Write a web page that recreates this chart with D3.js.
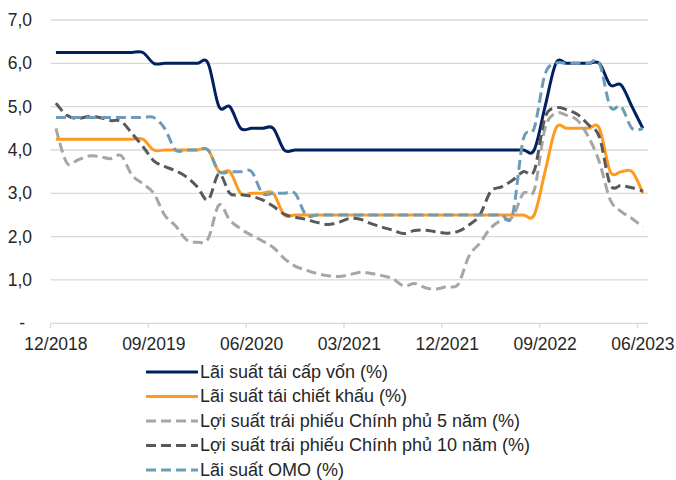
<!DOCTYPE html>
<html>
<head>
<meta charset="utf-8">
<script src="https://cdn.jsdelivr.net/npm/d3@7"></script>
<style>
  html, body { margin: 0; padding: 0; background: #fff; }
  svg { display: block; font-family: "Liberation Sans", Arial, sans-serif; }
</style>
</head>
<body>
<svg id="chart" width="676" height="480"></svg>
<script>
// ---------- DATA ----------
const startMonth = new Date(2018, 11, 1);   // 12/2018
const monthCount = 55;                       // 12/2018 .. 06/2023
const tickLabels = ["12/2018", "09/2019", "06/2020", "03/2021", "12/2021", "09/2022", "06/2023"];
const yTicks = [0, 1, 2, 3, 4, 5, 6, 7];

const refinancing = [
  6.25,6.25,6.25,6.25,6.25,6.25,6.25,6.25,6.25,
  6.0,6.0,6.0,6.0,6.0,6.0,
  5.0,5.0,
  4.5,4.5,4.5,4.5,
  4.0,4.0,4.0,4.0,4.0,4.0,4.0,4.0,4.0,4.0,4.0,4.0,4.0,4.0,4.0,4.0,4.0,4.0,4.0,4.0,4.0,4.0,4.0,4.0,
  5.0,
  6.0,6.0,6.0,6.0,6.0,
  5.5,5.5,
  5.0,
  4.5
];
const discount = [
  4.25,4.25,4.25,4.25,4.25,4.25,4.25,4.25,4.25,
  4.0,4.0,4.0,4.0,4.0,4.0,
  3.5,3.5,
  3.0,3.0,3.0,3.0,
  2.5,2.5,2.5,2.5,2.5,2.5,2.5,2.5,2.5,2.5,2.5,2.5,2.5,2.5,2.5,2.5,2.5,2.5,2.5,2.5,2.5,2.5,2.5,2.5,
  3.5,
  4.5,4.5,4.5,4.5,4.5,
  3.5,3.5,3.5,
  3.0
];
const bond5y = [
  4.5,3.7,3.77,3.86,3.85,3.8,3.87,3.42,3.22,3.0,
  2.5,2.25,1.93,1.87,1.95,2.73,2.38,2.18,2.03,1.9,
  1.75,1.5,1.32,1.23,1.15,1.1,1.08,1.12,1.18,1.15,
  1.1,1.03,0.86,0.92,0.82,0.79,0.85,0.9,1.55,1.85,
  2.2,2.38,2.45,3.0,3.07,4.5,4.85,4.8,4.68,4.3,
  3.72,2.85,2.58,2.42,2.22
];
const bond10y = [
  5.08,4.8,4.73,4.77,4.75,4.68,4.66,4.38,4.08,3.75,
  3.62,3.52,3.38,3.15,2.85,3.45,3.0,2.97,2.93,2.85,
  2.7,2.52,2.45,2.4,2.33,2.28,2.33,2.42,2.4,2.3,
  2.22,2.15,2.07,2.14,2.15,2.11,2.08,2.12,2.27,2.5,
  3.04,3.15,3.3,3.5,3.52,4.75,4.97,4.93,4.82,4.58,
  4.3,3.2,3.18,3.13,3.05
];
const omo = [
  4.75,4.75,4.75,4.75,4.75,4.75,4.75,4.75,4.75,4.75,
  4.5,
  4.0,4.0,4.0,4.0,
  3.5,3.5,3.5,3.5,
  3.0,3.0,3.0,3.0,
  2.5,2.5,2.5,2.5,2.5,2.5,2.5,2.5,2.5,2.5,2.5,2.5,2.5,2.5,2.5,2.5,2.5,2.5,2.5,2.5,
  4.25,
  4.5,
  5.75,
  6.0,6.0,6.0,6.0,6.0,
  5.0,5.0,
  4.5,4.5
];

const seriesNames = [
  "Lãi suất tái cấp vốn (%)",
  "Lãi suất tái chiết khấu (%)",
  "Lợi suất trái phiếu Chính phủ 5 năm (%)",
  "Lợi suất trái phiếu Chính phủ 10 năm (%)",
  "Lãi suất OMO (%)"
];
const seriesValues = [refinancing, discount, bond5y, bond10y, omo];
const seriesColors = ["#002060", "#ff9a1e", "#a6a6a6", "#595959", "#6e9cb8"];
const seriesDashed = [false, false, true, true, true];

// ---------- LAYOUT ----------
const svg = d3.select("#chart");
const plot = { left: 50.5, right: 648.3, top: 20, bottom: 323.3 };
const fmtMonth = d3.timeFormat("%m/%Y");
const months = d3.timeMonth.range(startMonth, d3.timeMonth.offset(startMonth, monthCount)).map(fmtMonth);

const x = d3.scaleBand().domain(months).range([plot.left, plot.right]).padding(0);
const y = d3.scaleLinear().domain([0, 7]).range([plot.bottom, plot.top]);
const xc = m => x(m) + x.bandwidth() / 2;

const textColor = "#262626";
const axisFont = 17.5;
const legendFont = 18;

// gridlines
svg.append("g")
  .selectAll("line")
  .data(yTicks.filter(t => t > 0))
  .join("line")
  .attr("x1", plot.left).attr("x2", plot.right)
  .attr("y1", d => y(d)).attr("y2", d => y(d))
  .attr("stroke", "#d9d9d9").attr("stroke-width", 1.3);

// y axis (labels only)
const yAxis = d3.axisLeft(y).tickValues(yTicks).tickSize(0).tickPadding(0)
  .tickFormat(d => d === 0 ? "-" : d3.format(".1f")(d).replace(".", ","));
const gy = svg.append("g").attr("transform", "translate(32,0)").call(yAxis);
gy.select(".domain").remove();
gy.selectAll("text").attr("font-size", axisFont).attr("fill", textColor)
  .attr("font-family", "Liberation Sans, Arial, sans-serif")
  .attr("dx", d => d === 0 ? -7 : 0);

// x axis: tick marks at category boundaries, labels centred on the category
const xAxis = d3.axisBottom(x).tickValues(tickLabels).tickSize(5).tickPadding(9).tickSizeOuter(0);
const gx = svg.append("g").attr("transform", `translate(0,${plot.bottom})`).call(xAxis);
gx.selectAll(".tick").attr("transform", d => `translate(${x(d)},0)`);
gx.select(".domain").attr("stroke", "#d9d9d9").attr("stroke-width", 1.3)
  .attr("d", `M${plot.left},0H${plot.right}`);
gx.selectAll(".tick line").attr("stroke", "#d9d9d9").attr("stroke-width", 1.3);
gx.selectAll(".tick text").attr("font-size", axisFont).attr("fill", textColor)
  .attr("font-family", "Liberation Sans, Arial, sans-serif")
  .attr("x", x.bandwidth() / 2);

// lines
const line = d3.line()
  .x((d, i) => xc(months[i]))
  .y(d => y(d))
  .curve(d3.curveCardinal.tension(0));

svg.append("g")
  .selectAll("path")
  .data(seriesValues)
  .join("path")
  .attr("d", d => line(d))
  .attr("fill", "none")
  .attr("stroke", (d, i) => seriesColors[i])
  .attr("stroke-width", 3)
  .attr("stroke-linejoin", "round")
  .attr("stroke-dasharray", (d, i) => seriesDashed[i] ? "10,5" : null);

// legend
const legend = svg.append("g");
const legendTop = 372, legendStep = 24.5;
const items = legend.selectAll("g")
  .data(seriesNames)
  .join("g")
  .attr("transform", (d, i) => `translate(0,${legendTop + i * legendStep})`);
items.append("line")
  .attr("x1", 146).attr("x2", 198).attr("y1", 0).attr("y2", 0)
  .attr("stroke", (d, i) => seriesColors[i])
  .attr("stroke-width", 3)
  .attr("stroke-dasharray", (d, i) => seriesDashed[i] ? "10,5" : null);
items.append("text")
  .attr("x", 200).attr("y", 0).attr("dy", "0.33em")
  .attr("font-size", legendFont).attr("fill", textColor)
  .text(d => d);
</script>
</body>
</html>
